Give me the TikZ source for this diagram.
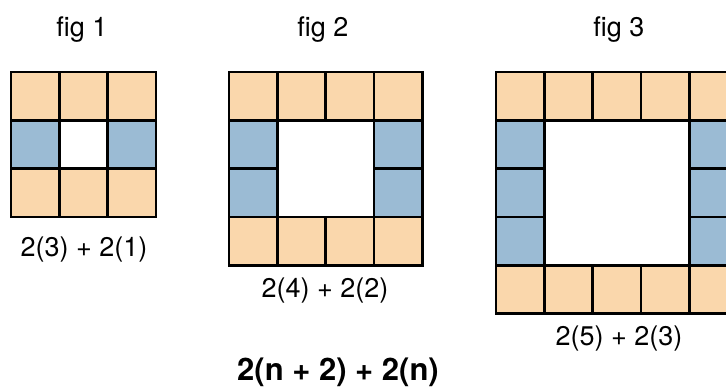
\documentclass[tikz,border=0pt]{standalone}
\usepackage{fontspec}
\setmainfont{TeX Gyre Heros}
\definecolor{peach}{HTML}{FAD7AC}
\definecolor{steel}{HTML}{9BBBD4}
\begin{document}
\begin{tikzpicture}[x=1pt,y=-1pt,
  cellbox/.style={draw=black,line width=2.4pt},
  orangecell/.style={cellbox,fill=peach},
  bluecell/.style={cellbox,fill=steel},
  lbl/.style={anchor=base,inner sep=0pt,font=\fontsize{27}{32}\selectfont},
  formula/.style={anchor=base,inner sep=0pt,font=\fontsize{31}{36}\selectfont\bfseries}]
\useasboundingbox (0,0) rectangle (726,391);
\def\cs{48.33}
\def\ytop{72}
% figure grids: x0 and size N
\foreach \xo/\N in {11/3, 229/4, 496/5}{
  \pgfmathtruncatemacro{\Nm}{\N-1}
  % top and bottom rows
  \foreach \i in {1,...,\N}{
    \draw[orangecell] ({\xo+(\i-1)*\cs},\ytop) rectangle ++(\cs,\cs);
    \draw[orangecell] ({\xo+(\i-1)*\cs},{\ytop+\Nm*\cs}) rectangle ++(\cs,\cs);
  }
  % side columns
  \foreach \j in {2,...,\Nm}{
    \draw[bluecell] (\xo,{\ytop+(\j-1)*\cs}) rectangle ++(\cs,\cs);
    \draw[bluecell] ({\xo+\Nm*\cs},{\ytop+(\j-1)*\cs}) rectangle ++(\cs,\cs);
  }
}
\node[lbl] (t1) at (82,36) {fig 1};
\node[lbl] (t2) at (323,36) {fig 2};
\node[lbl] (t3) at (619,36) {fig 3};
\node[lbl] (f1) at (84,256) {2(3) + 2(1)};
\node[lbl] (f2) at (325,297) {2(4) + 2(2)};
\node[lbl] (f3) at (619,345) {2(5) + 2(3)};
\node[formula] (gen) at (338,380) {2(n + 2) + 2(n)};
\end{tikzpicture}
\end{document}
